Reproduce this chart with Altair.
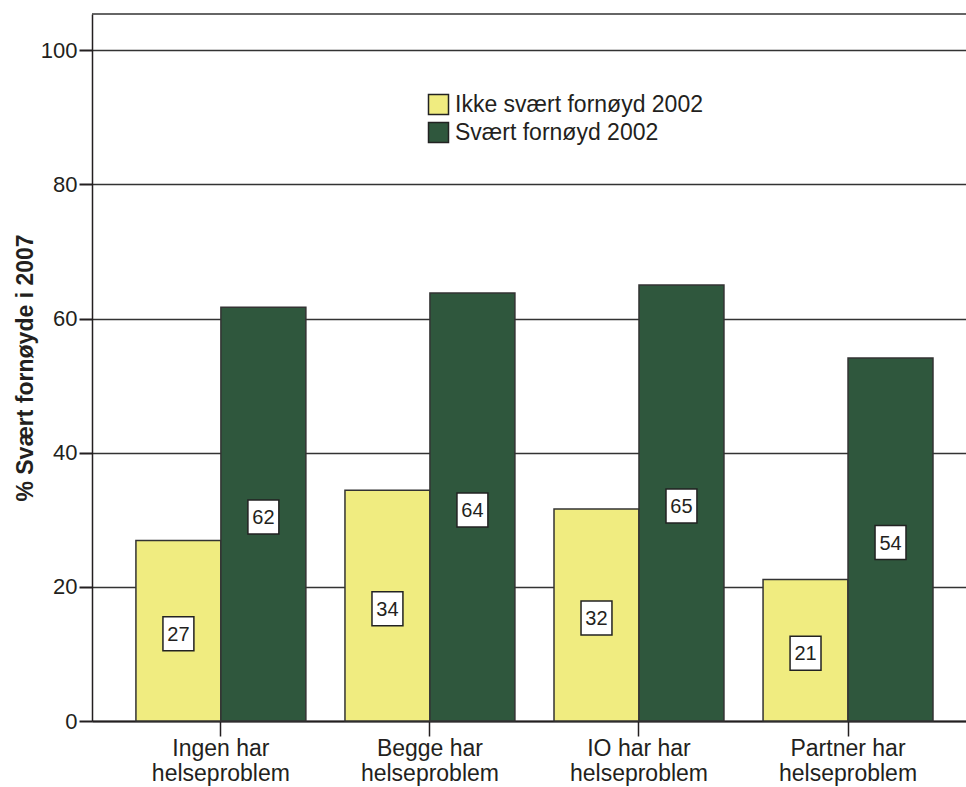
import altair as alt
import pandas as pd

categories = ["Ingen har helseproblem", "Begge har helseproblem",
              "IO har har helseproblem", "Partner har helseproblem"]
series = ["Ikke svært fornøyd 2002", "Svært fornøyd 2002"]
ikke_values = [26.9, 34.4, 31.6, 21.1]
svaert_values = [61.7, 63.8, 65.0, 54.1]
colors = ["#f0ec80", "#2f573d"]
y_ticks = [0, 20, 40, 60, 80, 100]

rows = []
for c, a, b in zip(categories, ikke_values, svaert_values):
    rows.append({"kategori": c, "gruppe": series[0], "verdi": a})
    rows.append({"kategori": c, "gruppe": series[1], "verdi": b})
df = pd.DataFrame(rows)

FONT = "Liberation Sans"
INK = "#231f20"

x_enc = alt.X("kategori:N", sort=categories, title=None,
              scale=alt.Scale(paddingInner=0.187, paddingOuter=0.184, align=0.571),
              axis=alt.Axis(labelAngle=0, labelFontSize=23, labelLineHeight=25,
                            tickSize=15, labelPadding=1, tickWidth=1.5,
                            domainWidth=2.2, domainColor=INK, tickColor=INK,
                            labelColor=INK, grid=False,
                            labelExpr="[substring(datum.label, 0, lastindexof(datum.label, ' ')), substring(datum.label, lastindexof(datum.label, ' ') + 1)]"))
xoff = alt.XOffset("gruppe:N", sort=series, scale=alt.Scale(paddingInner=0, paddingOuter=0))
y_scale = alt.Scale(domain=[0, 105.4], nice=False, zero=True)

base = alt.Chart(df)

bars = base.mark_bar(stroke="#333333", strokeWidth=1.5).encode(
    x=x_enc,
    xOffset=xoff,
    y=alt.Y("verdi:Q", scale=y_scale, title="% Svært fornøyde i 2007",
            axis=alt.Axis(values=y_ticks, labelFontSize=22, tickSize=13,
                          labelPadding=2, tickWidth=2, domainWidth=1.5,
                          domainColor=INK, tickColor=INK, labelColor=INK,
                          grid=True, gridColor="#333333", gridWidth=1.3,
                          titleFontSize=23, titleFontWeight="bold",
                          titleColor=INK, titleX=-67, titleY=353.5,
                          titleAngle=-90, titleAlign="center",
                          titleBaseline="middle")),
    color=alt.Color("gruppe:N", sort=series,
                    scale=alt.Scale(domain=series, range=colors),
                    legend=alt.Legend(title=None, orient="none", legendX=335,
                                      legendY=79, symbolType="square",
                                      symbolSize=400, symbolStrokeColor="#222222",
                                      symbolStrokeWidth=1.5, labelFontSize=23,
                                      labelColor=INK, labelOffset=5,
                                      rowPadding=1, padding=0, labelLimit=500)),
)

labelled = base.transform_calculate(
    midt="datum.verdi / 2",
    tekst="format(round(datum.verdi), 'd')",
)

boxes = labelled.mark_point(
    shape="M-0.91,-1H0.91V1H-0.91Z", size=1156, filled=True, fill="white",
    stroke="#222222", strokeWidth=1.5, opacity=1, yOffset=3,
).encode(
    x=alt.X("kategori:N", sort=categories),
    xOffset=alt.XOffset("gruppe:N", sort=series),
    y=alt.Y("midt:Q", scale=y_scale),
)

texts = labelled.mark_text(fontSize=20, color=INK, baseline="middle",
                           yOffset=4).encode(
    x=alt.X("kategori:N", sort=categories),
    xOffset=alt.XOffset("gruppe:N", sort=series),
    y=alt.Y("midt:Q", scale=y_scale),
    text="tekst:N",
)

top_rule = alt.Chart(pd.DataFrame({"a": [0]})).mark_rule(
    color="#333333", strokeWidth=1.5
).encode(y=alt.value(0), x=alt.value(0), x2=alt.value(874))

chart = alt.layer(bars, boxes, texts, top_rule).properties(
    width=874, height=707,
    autosize=alt.AutoSizeParams(type="none"),
    padding={"left": 92, "top": 14, "right": 0, "bottom": 66},
).configure(font=FONT).configure_view(stroke=None)

chart.save("out.html", embed_options={"renderer": "svg", "actions": False})
